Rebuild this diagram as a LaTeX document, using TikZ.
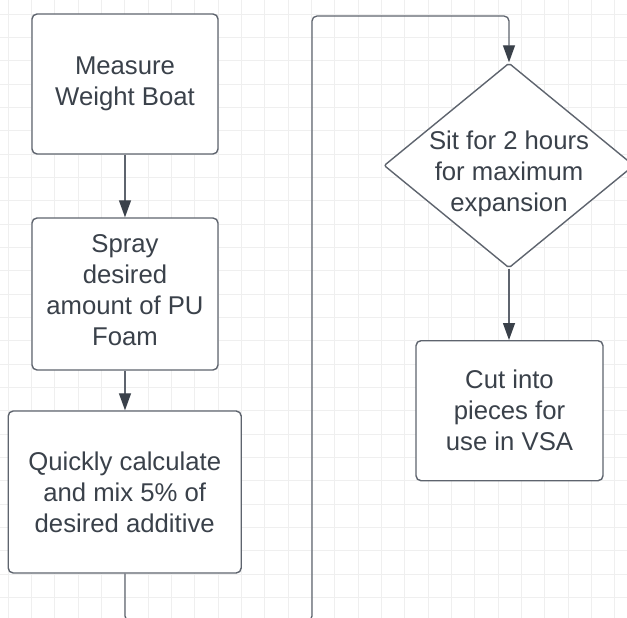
\documentclass[tikz,border=0pt]{standalone}
\usepackage{fontspec}
\setmainfont{Liberation Sans}
\usetikzlibrary{shapes.geometric,arrows.meta}
\definecolor{gridc}{HTML}{EFEFEF}
\definecolor{linec}{HTML}{5E646E}
\definecolor{textc}{HTML}{3A414A}
\tikzset{
  box/.style={draw=linec, line width=1.4pt, fill=white, rounded corners=5pt,
    inner sep=0pt, align=center, text=textc,
    font=\fontsize{25.7}{31}\selectfont},
  lbl/.style={inner sep=0pt, align=center, text=textc,
    font=\fontsize{25.7}{31}\selectfont},
  arr/.style={draw=linec, line width=1.3pt,
    -{Triangle[length=17pt,width=12pt,fill=textc,color=textc]}},
  link/.style={draw=linec, line width=1.3pt}
}
\begin{document}
\begin{tikzpicture}[x=1pt,y=-1pt]
\useasboundingbox (0,0) rectangle (627,618);
\clip (0,0) rectangle (627,618);
\fill[white] (0,0) rectangle (627,618);
% grid
\foreach \i in {0,...,27} {
  \draw[gridc, line width=0.9pt] ({8+23.333*\i},0) -- ({8+23.333*\i},618);
}
\foreach \i in {0,...,26} {
  \draw[gridc, line width=0.9pt] (0,{14+23.333*\i}) -- (627,{14+23.333*\i});
}
% nodes
\node[box, minimum width=186pt, minimum height=140pt] (b1) at (125,84) {Measure\\Weight Boat};
\node[box, minimum width=186pt, minimum height=152pt] (b2) at (125,294) {};
\node[lbl] (b2t) at (125,290.5) {Spray\\desired\\amount of PU\\Foam};
\node[box, minimum width=233pt, minimum height=162pt] (b3) at (124.7,492) {Quickly calculate\\and mix 5\% of\\desired additive};
\node[shape=diamond, draw=linec, line width=1.4pt, fill=white, rounded corners=2pt,
  minimum width=250pt, minimum height=205pt, inner sep=0pt] (dia) at (509,165.5) {};
\node[lbl] (dt) at (509,174) {Sit for 2 hours\\for maximum\\expansion};
\node[box, minimum width=187pt, minimum height=140pt] (b4) at (509.5,410.7) {Cut into\\pieces for\\use in VSA};
% connectors
\coordinate (c1) at (125,621);
\coordinate (c2) at (312,621);
\coordinate (c3) at (312,16);
\draw[arr] (b1.south) -- (b1.south |- b2.north);
\draw[arr] (b2.south) -- (b2.south |- b3.north);
\draw[arr, rounded corners=5pt] (b3.south -| b2.south) -- (c1) -- (c2) -- (c3) -- (c3 -| dia.north) -- (dia.north);
\draw[arr] (dia.south) -- (dia.south |- b4.north);
\end{tikzpicture}
\end{document}
